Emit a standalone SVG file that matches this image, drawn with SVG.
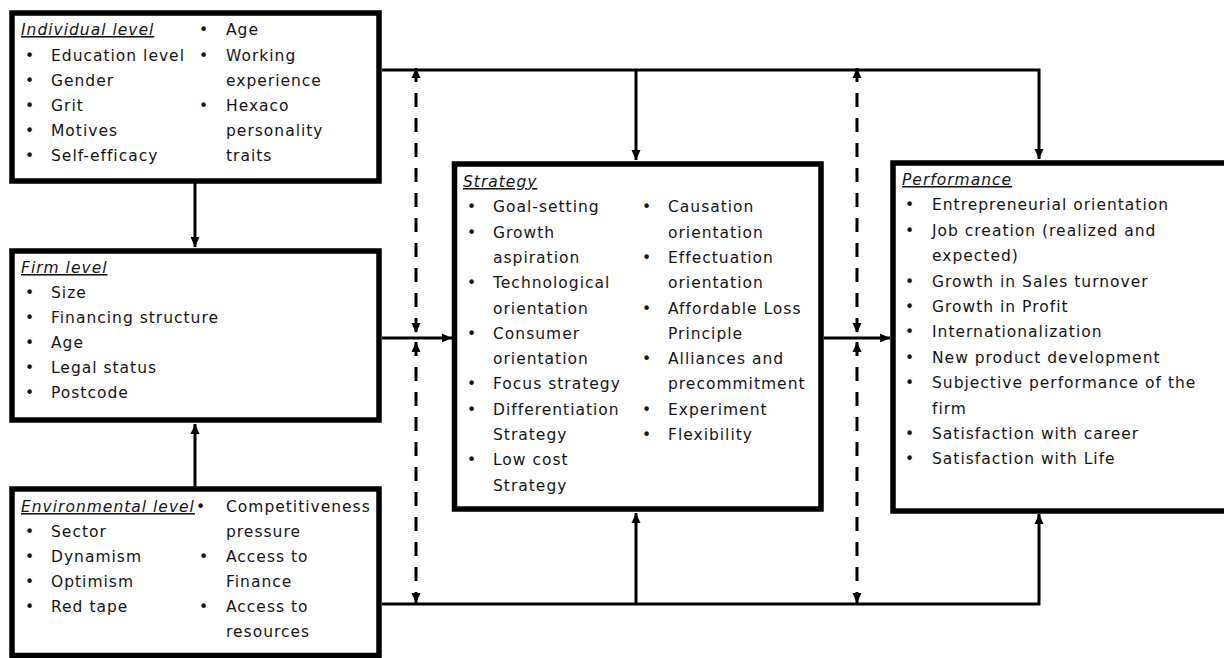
<svg xmlns="http://www.w3.org/2000/svg" width="1224" height="658" viewBox="0 0 1224 658">
<style>
.box{fill:#fff;stroke:#000;stroke-width:5.5}
.t{font-family:"DejaVu Sans",sans-serif;font-size:15.5px;letter-spacing:1px;fill:#141414}
.h{font-style:italic;text-decoration:underline}
.c{fill:none;stroke:#000;stroke-width:3}
.d{fill:none;stroke:#000;stroke-width:3;stroke-dasharray:14 11}
</style>
<defs>
<marker id="a" markerUnits="userSpaceOnUse" markerWidth="10" markerHeight="10" refX="10" refY="4.5" orient="auto-start-reverse" viewBox="0 0 10 9">
<path d="M0,0 L10,4.5 L0,9 z" fill="#000"/>
</marker>
</defs>
<rect width="1224" height="658" fill="#fff"/>
<g id="connectors">
<path class="c" d="M382,70 H1039 V159" marker-end="url(#a)"/>
<path class="c" d="M636,70 V160" marker-end="url(#a)"/>
<path class="c" d="M195,183 V247" marker-end="url(#a)"/>
<path class="c" d="M195,489 V424" marker-end="url(#a)"/>
<path class="c" d="M382,338 H452" marker-end="url(#a)"/>
<path class="c" d="M824,338 H890" marker-end="url(#a)"/>
<path class="c" d="M382,604 H1039 V514" marker-end="url(#a)"/>
<path class="c" d="M636,604 V513" marker-end="url(#a)"/>
<path class="d" d="M416,68 V333" marker-start="url(#a)" marker-end="url(#a)"/>
<path class="d" d="M416,342 V603" marker-start="url(#a)" marker-end="url(#a)"/>
<path class="d" d="M857,68 V333" marker-start="url(#a)" marker-end="url(#a)"/>
<path class="d" d="M857,342 V603" marker-start="url(#a)" marker-end="url(#a)"/>
</g>
<g id="individual">
<rect class="box" x="12" y="13" width="367" height="168"/>
<text class="t h" x="21" y="35">Individual level</text>
<text class="t" x="25" y="61">•</text><text class="t" x="51" y="61">Education level</text>
<text class="t" x="25" y="86">•</text><text class="t" x="51" y="86">Gender</text>
<text class="t" x="25" y="111">•</text><text class="t" x="51" y="111">Grit</text>
<text class="t" x="25" y="136">•</text><text class="t" x="51" y="136">Motives</text>
<text class="t" x="25" y="161">•</text><text class="t" x="51" y="161">Self-efficacy</text>
<text class="t" x="199" y="35">•</text><text class="t" x="226" y="35">Age</text>
<text class="t" x="199" y="61">•</text><text class="t" x="226" y="61">Working</text>
<text class="t" x="226" y="86">experience</text>
<text class="t" x="199" y="111">•</text><text class="t" x="226" y="111">Hexaco</text>
<text class="t" x="226" y="136">personality</text>
<text class="t" x="226" y="161">traits</text>
</g>
<g id="firm">
<rect class="box" x="12" y="251" width="367" height="169"/>
<text class="t h" x="21" y="273">Firm level</text>
<text class="t" x="25" y="298">•</text><text class="t" x="51" y="298">Size</text>
<text class="t" x="25" y="323">•</text><text class="t" x="51" y="323">Financing structure</text>
<text class="t" x="25" y="348">•</text><text class="t" x="51" y="348">Age</text>
<text class="t" x="25" y="373">•</text><text class="t" x="51" y="373">Legal status</text>
<text class="t" x="25" y="398">•</text><text class="t" x="51" y="398">Postcode</text>
</g>
<g id="environmental">
<rect class="box" x="12" y="489" width="367" height="166.5"/>
<text class="t h" x="21" y="512">Environmental level</text>
<text class="t" x="196" y="512">•</text><text class="t" x="226" y="512">Competitiveness</text>
<text class="t" x="226" y="537">pressure</text>
<text class="t" x="199" y="562">•</text><text class="t" x="226" y="562">Access to</text>
<text class="t" x="226" y="587">Finance</text>
<text class="t" x="199" y="612">•</text><text class="t" x="226" y="612">Access to</text>
<text class="t" x="226" y="637">resources</text>
<text class="t" x="25" y="537">•</text><text class="t" x="51" y="537">Sector</text>
<text class="t" x="25" y="562">•</text><text class="t" x="51" y="562">Dynamism</text>
<text class="t" x="25" y="587">•</text><text class="t" x="51" y="587">Optimism</text>
<text class="t" x="25" y="612">•</text><text class="t" x="51" y="612">Red tape</text>
</g>
<g id="strategy">
<rect class="box" x="454.5" y="164" width="366.5" height="345"/>
<text class="t h" x="463" y="187">Strategy</text>
<text class="t" x="467" y="212.3">•</text><text class="t" x="493" y="212.3">Goal-setting</text>
<text class="t" x="467" y="237.6">•</text><text class="t" x="493" y="237.6">Growth</text>
<text class="t" x="493" y="262.9">aspiration</text>
<text class="t" x="467" y="288.2">•</text><text class="t" x="493" y="288.2">Technological</text>
<text class="t" x="493" y="313.5">orientation</text>
<text class="t" x="467" y="338.8">•</text><text class="t" x="493" y="338.8">Consumer</text>
<text class="t" x="493" y="364.1">orientation</text>
<text class="t" x="467" y="389.4">•</text><text class="t" x="493" y="389.4">Focus strategy</text>
<text class="t" x="467" y="414.7">•</text><text class="t" x="493" y="414.7">Differentiation</text>
<text class="t" x="493" y="440">Strategy</text>
<text class="t" x="467" y="465.3">•</text><text class="t" x="493" y="465.3">Low cost</text>
<text class="t" x="493" y="490.6">Strategy</text>
<text class="t" x="642" y="212.3">•</text><text class="t" x="668" y="212.3">Causation</text>
<text class="t" x="668" y="237.6">orientation</text>
<text class="t" x="642" y="262.9">•</text><text class="t" x="668" y="262.9">Effectuation</text>
<text class="t" x="668" y="288.2">orientation</text>
<text class="t" x="642" y="313.5">•</text><text class="t" x="668" y="313.5">Affordable Loss</text>
<text class="t" x="668" y="338.8">Principle</text>
<text class="t" x="642" y="364.1">•</text><text class="t" x="668" y="364.1">Alliances and</text>
<text class="t" x="668" y="389.4">precommitment</text>
<text class="t" x="642" y="414.7">•</text><text class="t" x="668" y="414.7">Experiment</text>
<text class="t" x="642" y="440">•</text><text class="t" x="668" y="440">Flexibility</text>
</g>
<g id="performance">
<rect class="box" x="893" y="163" width="336" height="348"/>
<text class="t h" x="902" y="185">Performance</text>
<text class="t" x="905" y="210.4">•</text><text class="t" x="932" y="210.4">Entrepreneurial orientation</text>
<text class="t" x="905" y="235.8">•</text><text class="t" x="932" y="235.8">Job creation (realized and</text>
<text class="t" x="932" y="261.2">expected)</text>
<text class="t" x="905" y="286.6">•</text><text class="t" x="932" y="286.6">Growth in Sales turnover</text>
<text class="t" x="905" y="312">•</text><text class="t" x="932" y="312">Growth in Profit</text>
<text class="t" x="905" y="337.4">•</text><text class="t" x="932" y="337.4">Internationalization</text>
<text class="t" x="905" y="362.8">•</text><text class="t" x="932" y="362.8">New product development</text>
<text class="t" x="905" y="388.2">•</text><text class="t" x="932" y="388.2">Subjective performance of the</text>
<text class="t" x="932" y="413.6">firm</text>
<text class="t" x="905" y="439">•</text><text class="t" x="932" y="439">Satisfaction with career</text>
<text class="t" x="905" y="464.4">•</text><text class="t" x="932" y="464.4">Satisfaction with Life</text>
</g>
</svg>
